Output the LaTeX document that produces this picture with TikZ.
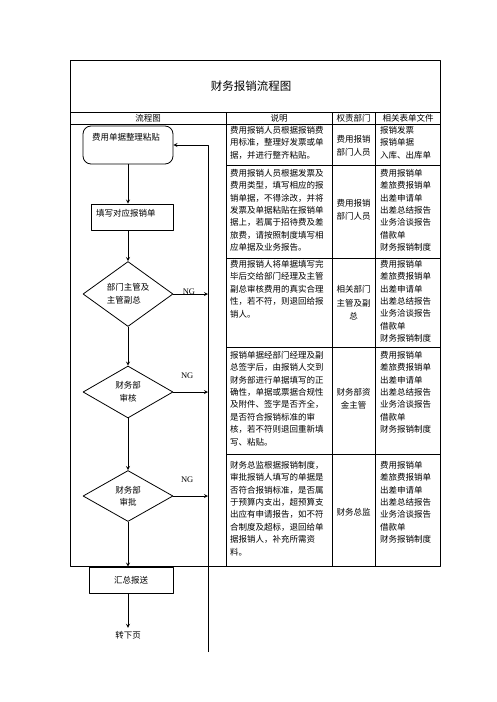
\documentclass[tikz,border=0pt]{standalone}
\usepackage{fontspec}
\setmainfont{Liberation Serif}
\newfontfamily\cjk{Noto Sans CJK SC}
\usetikzlibrary{shapes.geometric}
\newcommand\formlist{费用报销单\\差旅费报销单\\出差申请单\\出差总结报告\\业务洽谈报告\\借款单\\财务报销制度}
\tikzset{
  cell/.style={font=\cjk\fontsize{8.5}{12.4}\selectfont, inner sep=0pt, align=left, anchor=north west},
  dept/.style={font=\cjk\fontsize{8.5}{13.5}\selectfont, inner sep=0pt, align=center},
  head/.style={font=\cjk\fontsize{8.5}{10}\selectfont, inner sep=0pt},
  flowbox/.style={draw, line width=0.8pt, font=\cjk\fontsize{8.5}{12}\selectfont, inner sep=0pt},
  check/.style={draw, diamond, line width=0.8pt, minimum width=90pt, font=\cjk\fontsize{8.5}{12.5}\selectfont, inner sep=0pt},
  ng/.style={font=\fontsize{8.5}{10}\selectfont, inner sep=0pt}
}
\begin{document}
\begin{tikzpicture}[x=1pt,y=-1pt,line join=round,>=stealth]
\useasboundingbox (0,0) rectangle (496,702);
% table frame
\draw[line width=0.9pt] (70,60) rectangle (440,566);
\draw[line width=0.6pt] (70,112) -- (440,112) (70,124) -- (440,124);
\draw[line width=0.6pt] (226,112) -- (226,566) (332,112) -- (332,566) (375,112) -- (375,566);
\foreach \y in {165,258,347,454} \draw[line width=0.6pt] (226,\y) -- (440,\y);
\node[font=\cjk\fontsize{11.5}{12}\selectfont] (title) at (251,86) {财务报销流程图};
\node[head] (hflow) at (148,118) {流程图};
\node[head] (hdesc) at (279,118) {说明};
\node[head] (hdept) at (353.5,118) {权责部门};
\node[head] (hform) at (408,118) {相关表单文件};
% descriptions
\node[cell] (desc1) at (230,126) {费用报销人员根据报销费\\用标准，整理好发票或单\\据，并进行整齐粘贴。};
\node[cell] (desc2) at (230,169) {费用报销人员根据发票及\\费用类型，填写相应的报\\销单据，不得涂改，并将\\发票及单据粘贴在报销单\\据上，若属于招待费及差\\旅费，请按照制度填写相\\应单据及业务报告。};
\node[cell] (desc3) at (230,260) {费用报销人将单据填写完\\毕后交给部门经理及主管\\副总审核费用的真实合理\\性，若不符，则退回给报\\销人。};
\node[cell] (desc4) at (230,351) {报销单据经部门经理及副\\总签字后，由报销人交到\\财务部进行单据填写的正\\确性，单据或票据合规性\\及附件、签字是否齐全，\\是否符合报销标准的审\\核，若不符则退回重新填\\写、粘贴。};
\node[cell] (desc5) at (230,461) {财务总监根据报销制度，\\审批报销人填写的单据是\\否符合报销标准，是否属\\于预算内支出，超预算支\\出应有申请报告，如不符\\合制度及超标，退回给单\\据报销人，补充所需资\\料。};
% departments
\node[dept] (dept1) at (353.5,146) {费用报销\\部门人员};
\node[dept] (dept2) at (353.5,210) {费用报销\\部门人员};
\node[dept] (dept3) at (353.5,303) {相关部门\\主管及副\\总};
\node[dept] (dept4) at (353.5,399) {财务部资\\金主管};
\node[dept] (dept5) at (353.5,512) {财务总监};
% forms
\node[cell] (form1) at (380,126) {报销发票\\报销单据\\入库、出库单};
\node[cell] (form2) at (380,169) {\formlist};
\node[cell] (form3) at (380,260) {\formlist};
\node[cell] (form4) at (380,351) {\formlist};
\node[cell] (form5) at (380,461) {\formlist};
% flow
\node[flowbox, rounded corners=8pt, text width=72pt, inner xsep=9pt, align=left, text height=14pt, text depth=24pt] (collect) at (128,145) {费用单据整理粘贴};
\node[flowbox, text width=72pt, inner xsep=5pt, align=left, text height=12pt, text depth=14pt] (fillform) at (132,217) {填写对应报销单};
\node[check, minimum height=65pt, align=left] (check1) at (128,294) {部门主管及\\主管副总};
\node[check, minimum height=52pt, align=center] (check2) at (128,392) {财务部\\审核};
\node[check, minimum height=51pt, align=center] (check3) at (128,496) {财务部\\审批};
\node[flowbox, minimum width=84pt, minimum height=26pt] (report) at (131,580) {汇总报送};
\node[font=\cjk\fontsize{8.5}{10}\selectfont, inner sep=3pt] (nextpage) at (128,635) {转下页};
\coordinate (back) at (208,652);
\draw[->, line width=0.8pt] (collect) -- (collect.south |- fillform.north);
\draw[->, line width=0.8pt] (check1.north |- fillform.south) -- (check1);
\draw[->, line width=0.8pt] (check1) -- (check2);
\draw[->, line width=0.8pt] (check2) -- (check3);
\draw[->, line width=0.8pt] (check3) -- (check3.south |- report.north);
\draw[->, line width=0.8pt] (nextpage.north |- report.south) -- (nextpage);
\draw[->, line width=0.8pt] (check1) -- (check1 -| back) node[ng, pos=0.45, anchor=base] {NG};
\draw[->, line width=0.8pt] (check2) -- (check2 -| back) node[ng, pos=0.4, above=13pt] {NG};
\draw[->, line width=0.8pt] (check3) -- (check3 -| back) node[ng, pos=0.4, above=13pt] {NG};
\draw[->, line width=0.8pt] (back) |- (collect.east);
\end{tikzpicture}
\end{document}
